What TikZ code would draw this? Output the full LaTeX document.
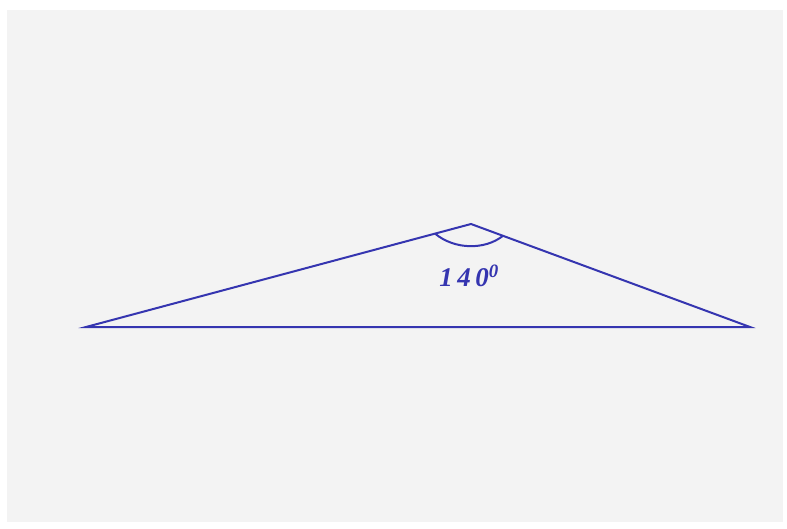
\documentclass[tikz,border=0pt]{standalone}
\usepackage{fontspec}
\usetikzlibrary{calc}
\setmainfont{Liberation Serif}
\definecolor{bg}{HTML}{F3F3F3}
\definecolor{ln}{HTML}{3535B0}
\begin{document}
\begin{tikzpicture}[x=1pt,y=-1pt,
  side/.style={draw=ln,line width=2pt,line join=miter},
  arcline/.style={draw=ln,line width=2pt},
  lbl/.style={text=ln,font=\fontsize{27}{31}\selectfont\bfseries\itshape,inner sep=0pt,anchor=base}]
\useasboundingbox (0,0) rectangle (787,529);
\fill[white] (0,0) rectangle (787,529);
\fill[bg] (7,10) rectangle (783,522);
\coordinate (A) at (86,327);
\coordinate (B) at (471,224);
\coordinate (C) at (750,327);
\coordinate (P) at ($(B)!0.0935!(A)$);
\coordinate (Q) at ($(B)!0.1147!(C)$);
\draw[side] (A) -- (B) -- (C) -- cycle;
\draw[arcline] (P) .. controls (455,250) and (485,250) .. (Q);
\node[lbl] (t) at (469,287) {1\,4\,0\textsuperscript{0}};
\end{tikzpicture}
\end{document}
